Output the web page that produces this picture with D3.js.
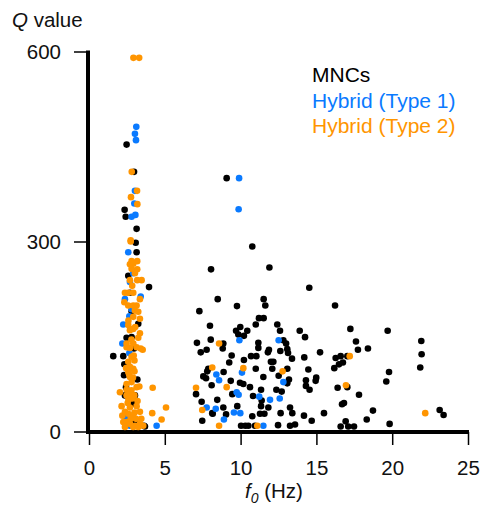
<!DOCTYPE html>
<html>
<head>
<meta charset="utf-8">
<script src="https://cdn.jsdelivr.net/npm/d3@7"></script>
<style>
  body { margin: 0; background: #fff; }
  text { font-family: "Liberation Sans", Arial, Helvetica, sans-serif; }
</style>
</head>
<body>
<div id="plot"></div>
<script>
// data: [f0 (Hz), Q]
var mncs = [
  [8.49,209],[11.52,209],[9.76,198],[11.63,199],[7.28,190],[11.21,179],[11.52,179],[7.98,167],[9.98,165],[9.70,159],
  [10.44,159],[9.85,153],[10.22,151],[11.0,169],[12.42,169],[12.6,159],[13.9,159],[14.25,149],[8.03,145],[7.12,140],
  [8.86,139],[8.82,131],[11.17,140],[11.17,132],[11.87,129],[11.8,125],[12.82,144],[13.0,139],[13.08,130],[13.13,124],
  [12.62,127],[15.24,125],[7.37,125],[7.76,129],[9.41,120],[10.69,119],[11.04,119],[10.22,113],[9.25,109],[12.0,110],
  [12.16,110],[13.39,115],[14.2,117],[7.87,99],[7.8,95],[8.88,94],[7.54,87],[7.72,84],[11.0,99],[12.09,99],
  [13.08,99],[14.47,98],[11.5,86],[12.51,88],[9.35,80],[9.96,77],[10.18,75],[8.09,73],[13.19,82],[13.08,76],
  [14.99,85],[14.95,80],[14.31,81],[14.31,72],[14.55,66],[10.62,70],[11.35,66],[12.36,66],[12.71,63],[9.45,59],
  [10.82,56],[7.06,59],[7.43,47],[8.46,50],[9.78,40],[11.39,49],[11.35,40],[11.83,38],[13.26,38],[8.16,28],
  [10.77,24],[11.28,28],[11.57,28],[12.64,29],[13.41,29],[14.18,25],[7.47,17],[14.69,17],[15.5,29],[10.03,9],
  [10.31,9],[10.51,9],[10.95,9],[12.47,10],[13.26,9],[13.59,11],[8.86,38],[9.04,27],[8.13,29],
  [9.08,400],[10.77,292],[8.05,256],[11.9,259],[14.53,227],
  [16.23,199],[17.24,162],[19.7,159],[17.61,142],[17.74,129],[18.4,131],[21.92,143],[21.94,122],[21.85,101],[16.27,116],
  [16.6,119],[17.04,119],[16.49,106],[16.75,109],[16.18,100],[19.79,94],[19.61,79],[16.4,69],[17.04,70],[17.81,58],
  [16.69,43],[16.82,45],[18.73,33],[18.32,19],[16.93,16],[16.6,8],[17.1,8],[17.48,8],[19.83,12],[23.13,34],[23.39,26],
  [2.48,453],[2.97,410],[2.35,350],[2.42,339],[3.14,320],[3.08,298],[3.14,283],[2.59,246],[3.96,228],[2.7,219],
  [2.81,190],[3.25,170],[2.48,148],[2.81,149],[2.97,131],[1.6,119],[2.26,119],[2.33,106],[2.31,89],[3.19,82],
  [2.37,57],[2.86,44],[2.59,17],[3.03,13],[3.69,8],[2.44,70],[2.81,46],[3.03,57],[3.63,9]
];
var type1 = [
  [9.92,144],[12.51,144],[10.09,93],[8.4,90],[8.58,81],[12.82,78],[9.74,62],[9.87,58],[11.23,55],[11.94,50],
  [12.58,52],[7.76,38],[8.36,36],[9.56,30],[9.98,29],[8.9,19],[11.5,9],[4.46,9],[9.9,400],[9.87,351],
  [3.12,481],[3.03,470],[3.1,460],[3.03,380],[2.99,360],[2.81,339],[3.06,342],[2.59,283],[2.92,250],[2.7,236],
  [2.37,209],[3.41,213],[2.81,193],[2.66,182],[2.26,169],[2.2,139],[2.66,124],[2.42,24],[2.88,25],[2.7,9]
];
var type2 = [
  [8.58,139],[8.13,101],[10.18,100],[12.77,95],[7.06,69],[9.08,70],[7.47,34],[8.58,9],[11.1,9],[17.2,119],
  [16.95,73],[22.18,29],[4.17,29],[4.79,19],[5.08,38],[3.54,129],[4.2,69],
  [2.93,590],[3.31,590],[2.82,410],[3.17,380],[2.77,370],[3.19,359],[2.75,302],[2.75,300],[2.81,269],[3.18,269],
  [2.7,264],[2.92,265],[2.81,257],[3.18,256],[3.03,250],[2.7,239],[3.18,239],[3.47,239],[2.37,219],[2.59,219],
  [2.92,219],[3.36,209],[2.33,204],[2.59,199],[2.92,199],[3.14,199],[3.03,191],[3.25,189],[2.92,181],[3.36,178],
  [2.59,168],[2.92,162],[2.7,160],[3.36,155],[3.25,148],[2.48,139],[2.92,139],[3.14,133],[2.48,133],[2.7,132],
  [3.41,131],[2.81,118],[2.59,110],[2.7,102],[2.92,99],[2.59,94],[2.7,86],[2.81,78],[2.48,75],[3.32,71],
  [3.14,70],[2.48,66],[2.7,60],[2.48,57],[2.99,57],[2.04,62],[2.15,40],[2.7,38],[3.14,40],[3.36,31],
  [2.37,31],[2.59,28],[2.92,25],[2.26,15],[2.48,15],[2.7,12],[3.03,9],[3.36,12],[3.58,9],[2.37,7],
  [2.92,7],[3.25,7],[2.8,145],[3.0,112],[2.65,90],[2.9,85],[2.6,50],[2.85,52],[3.0,30],[2.55,45],
  [3.1,20],[2.75,20],[3.45,20],[2.2,25],[3.0,95],[2.85,230],[2.6,175],[3.05,165],[2.95,120],[2.45,100],
  [2.8,65],[3.2,48]
];
var xMajor = [0, 5, 10, 15, 20, 25];
var yMajor = [0, 300, 600];
var seriesNames = ["MNCs", "Hybrid (Type 1)", "Hybrid (Type 2)"];
var seriesColors = ["#000000", "#0A7AFF", "#FF9500"];

var W = 483, H = 507;
var svg = d3.select("#plot").append("svg").attr("width", W).attr("height", H);

var x = d3.scaleLinear().domain([0, 25]).range([89, 468]);
var y = d3.scaleLinear().domain([0, 600]).range([431.5, 51.5]);

//x axis: minor ticks every 1 Hz, longer ones with labels every 5
var xg = svg.append("g").attr("transform", "translate(0,432)");
xg.call(d3.axisBottom(x).tickValues(d3.range(0, 26)).tickSize(8).tickFormat(""));
xg.call(d3.axisBottom(x).tickValues(xMajor).tickSize(13).tickPadding(15).tickFormat(d3.format("d")));
xg.selectAll("path.domain").remove();
xg.selectAll("line").attr("stroke", "#000").attr("stroke-width", 1.5);
xg.selectAll("text").attr("font-size", 20.5).attr("fill", "#111");

//y axis
var yg = svg.append("g").attr("transform", "translate(88,0)");
yg.call(d3.axisLeft(y).tickValues([100, 200, 400, 500]).tickSize(8).tickFormat(""));
yg.call(d3.axisLeft(y).tickValues(yMajor).tickSize(14).tickPadding(13).tickFormat(d3.format("d")));
yg.selectAll("path.domain").remove();
yg.selectAll("line").attr("stroke", "#000").attr("stroke-width", 1.5);
yg.selectAll("text").attr("font-size", 20.5).attr("fill", "#111").attr("dy", "0.35em");

// thick axis lines
svg.append("line").attr("x1", 88).attr("x2", 88).attr("y1", y(600) - 1).attr("y2", 434)
  .attr("stroke", "#000").attr("stroke-width", 4);
svg.append("line").attr("x1", 86).attr("x2", x(25) + 1).attr("y1", 432).attr("y2", 432)
  .attr("stroke", "#000").attr("stroke-width", 4);

// points
[mncs, type1, type2].forEach(function(data, i) {
  svg.append("g").selectAll("circle").data(data).enter().append("circle")
    .attr("cx", function(d) { return x(d[0]); })
    .attr("cy", function(d) { return y(d[1]); })
    .attr("r", 3.3)
    .attr("fill", seriesColors[i]);
});

// axis titles
var qt = svg.append("text").attr("x", 12).attr("y", 27).attr("font-size", 20.5).attr("fill", "#111");
qt.append("tspan").attr("font-style", "italic").text("Q");
qt.append("tspan").text(" value");

var ft = svg.append("text").attr("x", 245).attr("y", 498).attr("font-size", 20.5).attr("fill", "#111");
ft.append("tspan").attr("font-style", "italic").text("f");
ft.append("tspan").attr("font-style", "italic").attr("font-size", 14).attr("dy", 5).text("0");
ft.append("tspan").attr("dy", -5).text(" (Hz)");

// legend
seriesNames.forEach(function(n, i) {
  svg.append("text").attr("x", 312).attr("y", 82 + i * 25.5)
    .attr("font-size", 21).attr("fill", seriesColors[i]).text(n);
});
</script>
</body>
</html>
